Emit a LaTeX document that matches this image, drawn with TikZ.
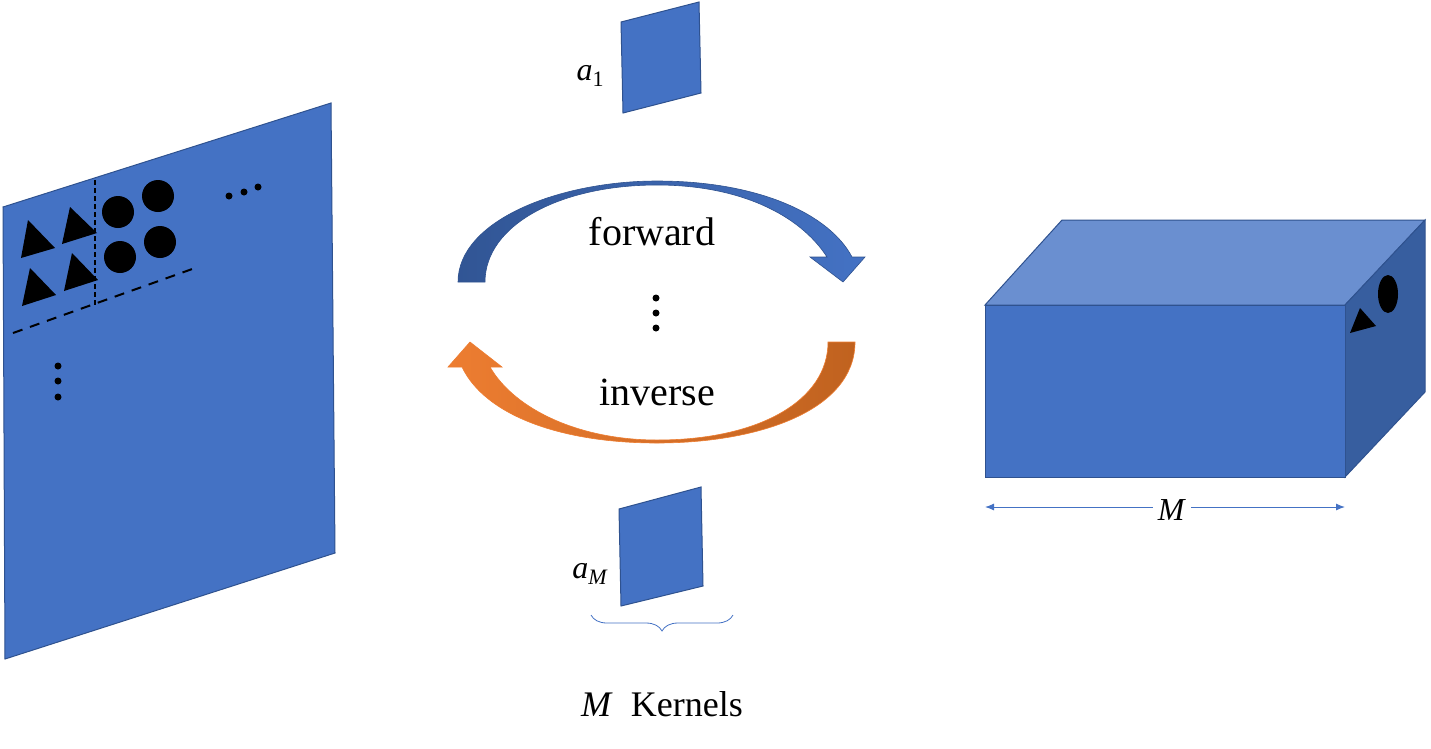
\documentclass[tikz,border=0pt]{standalone}
\usepackage{fontspec}
\setmainfont{Liberation Serif}
\usetikzlibrary{decorations.pathreplacing,arrows.meta}
\definecolor{pblue}{HTML}{4472C4}
\definecolor{pdark}{HTML}{2F528F}
\definecolor{ptop}{HTML}{6A8FD0}
\definecolor{pside}{HTML}{375E9F}
\definecolor{porange}{HTML}{ED7D31}
\definecolor{podark}{HTML}{C0621F}
\tikzset{plane/.style={fill=pblue,draw=pdark,line width=1pt},
 dot/.style={circle,fill=black,inner sep=0pt,minimum size=7pt},
 big/.style={font=\fontsize{36}{40}\selectfont}}
\begin{document}
\begin{tikzpicture}[x=1pt,y=-1pt]
\useasboundingbox (0,0) rectangle (1431,748);
% left plane
\draw[plane] (3,207) -- (331,103) -- (335,553) -- (5,659) -- cycle;
\fill (28,220) -- (55,248) -- (21,258) -- cycle;
\fill (70,207) -- (97,233) -- (62,244) -- cycle;
\fill (30,268) -- (56,295) -- (22,306) -- cycle;
\fill (72,253) -- (98,280) -- (64,291) -- cycle;
\fill (118,212) circle (16) (158,196) circle (16) (120,257) circle (16) (160,242) circle (16);
\draw[line width=1.5pt,dash pattern=on 5pt off 3pt] (95,180) -- (95,305);
\draw[line width=2pt,dash pattern=on 10pt off 8pt] (13,333) -- (195,268);
\node[dot] (h1) at (229,196) {}; \node[dot] (h2) at (244,192) {}; \node[dot] (h3) at (258,187) {};
\node[dot] (v1) at (58,366) {}; \node[dot] (v2) at (58,381) {}; \node[dot] (v3) at (58,397) {};
% kernels
\draw[plane] (621,22) -- (699,2) -- (701,93) -- (623,113) -- cycle;
\draw[plane] (619,509) -- (701,487) -- (703,586) -- (621,606) -- cycle;
\node[font=\fontsize{32}{36}\selectfont] (a1) at (590,76) {\textit{a}\raisebox{-0.2em}{\fontsize{22}{24}\selectfont 1}};
\node[font=\fontsize{32}{36}\selectfont] (aM) at (590,574) {\textit{a}\raisebox{-0.2em}{\fontsize{22}{24}\selectfont\textit{M}}};
\draw[pblue,line width=0.8pt,decorate,decoration={brace,mirror,amplitude=16pt}] (591,615) -- (733,615);
\node[big] (mk) at (662,704) {\textit{M}\ \ Kernels};
% arrows
\path[left color=pdark!90!pblue,right color=pblue,draw=pdark,line width=0.6pt]
 (458,282) .. controls (458,220) and (560,181) .. (657,181)
 .. controls (760,181) and (830,215) .. (852,257) -- (865,257) -- (843,282) -- (810,257) -- (827,257)
 .. controls (800,215) and (740,185) .. (657,185)
 .. controls (560,185) and (485,225) .. (485,282) -- cycle;
\path[left color=porange,right color=podark,draw=porange,line width=0.6pt]
 (855,342) .. controls (855,410) and (760,443) .. (657,443)
 .. controls (560,443) and (485,415) .. (462,367) -- (448,367) -- (470,342) -- (502,367) -- (490,367)
 .. controls (515,410) and (580,440) .. (657,440)
 .. controls (760,440) and (828,400) .. (828,342) -- cycle;
\node[font=\fontsize{40}{44}\selectfont] (fw) at (652,232) {forward};
\node[font=\fontsize{40}{44}\selectfont] (inv) at (657,392) {inverse};
\node[dot] (c1) at (656,298) {}; \node[dot] (c2) at (656,313) {}; \node[dot] (c3) at (656,328) {};
% box
\draw[fill=ptop,draw=pdark,line width=1pt] (985,305) -- (1062,220) -- (1425,220) -- (1345,305) -- cycle;
\draw[fill=pside,draw=pdark,line width=1pt] (1345,305) -- (1425,220) -- (1425,392) -- (1345,477) -- cycle;
\draw[fill=pblue,draw=pdark,line width=1pt] (985,305) rectangle (1345,477);
\fill (1360,308) -- (1376,326) -- (1350,333) -- cycle;
\fill (1388,294) ellipse (10 and 19);
\coordinate (mL) at (985,507); \coordinate (mR) at (1345,507);
\draw[pblue,line width=1pt,{Latex[length=9pt,width=7pt]}-{Latex[length=9pt,width=7pt]}] (mL) -- (mR);
\node[fill=white,inner sep=5pt,font=\fontsize{32}{36}\selectfont] (M) at (1172,510) {\textit{M}};
\end{tikzpicture}
\end{document}
